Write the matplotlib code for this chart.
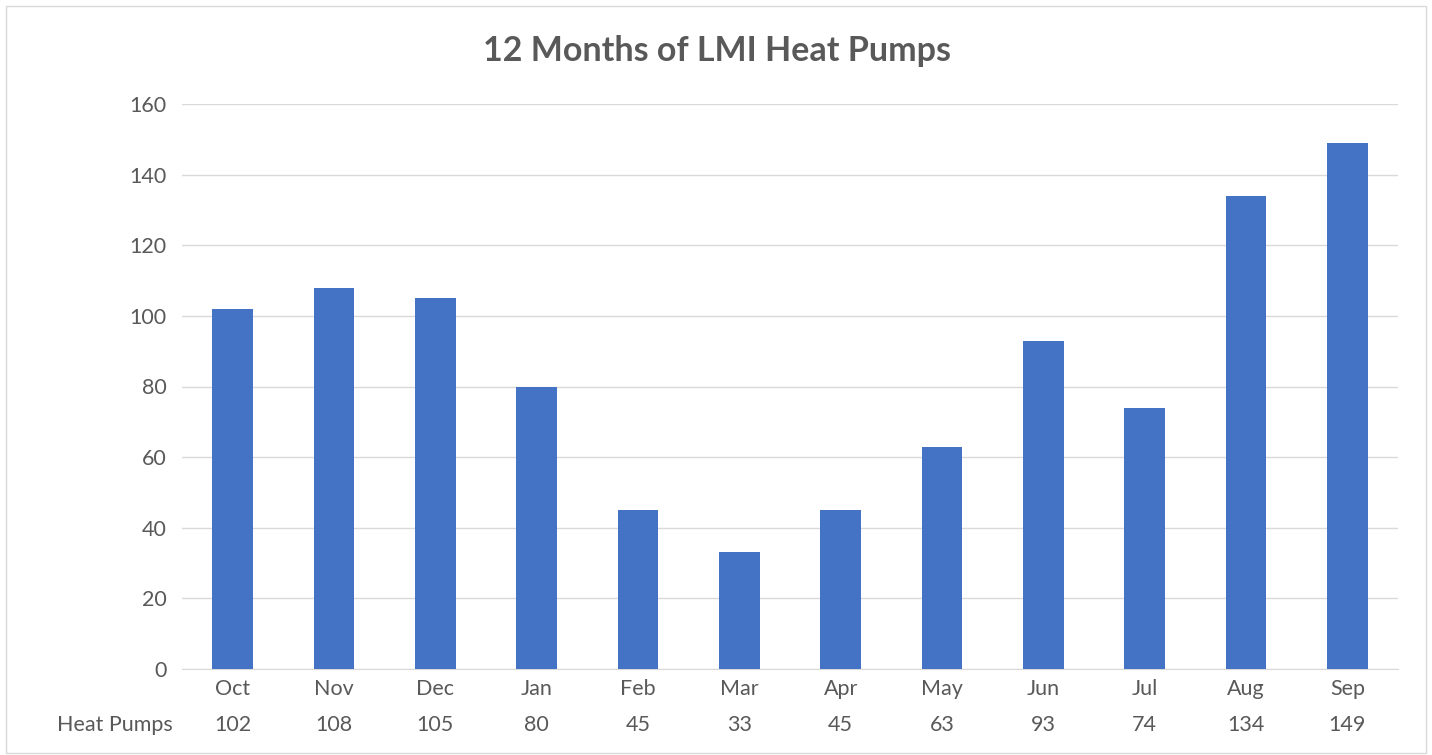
import matplotlib.pyplot as plt
from matplotlib.transforms import blended_transform_factory

months = ['Oct', 'Nov', 'Dec', 'Jan', 'Feb', 'Mar', 'Apr', 'May', 'Jun', 'Jul', 'Aug', 'Sep']
heat_pumps = [102, 108, 105, 80, 45, 33, 45, 63, 93, 74, 134, 149]
yticks = [0, 20, 40, 60, 80, 100, 120, 140, 160]

plt.rcParams['font.family'] = ['Lato', 'DejaVu Sans']
text_col = '#595959'

fig = plt.figure(figsize=(14.32, 7.55), dpi=100)
W, H = 1432, 755
ax = fig.add_axes([182 / W, 1 - 669 / H, (1398 - 182) / W, (669 - 104) / H])

x = list(range(len(months)))
ax.bar(x, heat_pumps, width=0.4, color='#4472C4', zorder=3)

ax.set_xlim(-0.5, len(months) - 0.5)
ax.set_ylim(0, 160)
ax.set_yticks(yticks)
ax.set_yticklabels([str(v) for v in yticks], fontsize=15.5, color=text_col)
ax.set_xticks(x)
ax.set_xticklabels(months, fontsize=15.5, color=text_col)
ax.tick_params(axis='both', length=0)
ax.tick_params(axis='y', pad=11)
ax.tick_params(axis='x', pad=7)
ax.grid(axis='y', color='#D9D9D9', linewidth=1, zorder=0)
for s in ['top', 'right', 'left']:
    ax.spines[s].set_visible(False)
ax.spines['bottom'].set_color('#D9D9D9')

# data table row under the axis
tr = blended_transform_factory(ax.transData, fig.transFigure)
yrow = 1 - 725 / H
for i, v in enumerate(heat_pumps):
    ax.text(i, yrow, str(v), transform=tr, ha='center', va='center', fontsize=15.5, color=text_col)
fig.text(57 / W, yrow, 'Heat Pumps', ha='left', va='center', fontsize=15.5, color=text_col)

fig.text(717 / W, 1 - 51 / H, '12 Months of LMI Heat Pumps', ha='center', va='center',
         fontsize=24.5, fontweight='bold', color=text_col)

# chart border
fig.add_artist(plt.Rectangle((6 / W, 2 / H), 1 - 12 / W, 1 - 8 / H, transform=fig.transFigure,
                             fill=False, edgecolor='#D9D9D9', linewidth=1))

fig.savefig('out.png', dpi=100, facecolor='white')
